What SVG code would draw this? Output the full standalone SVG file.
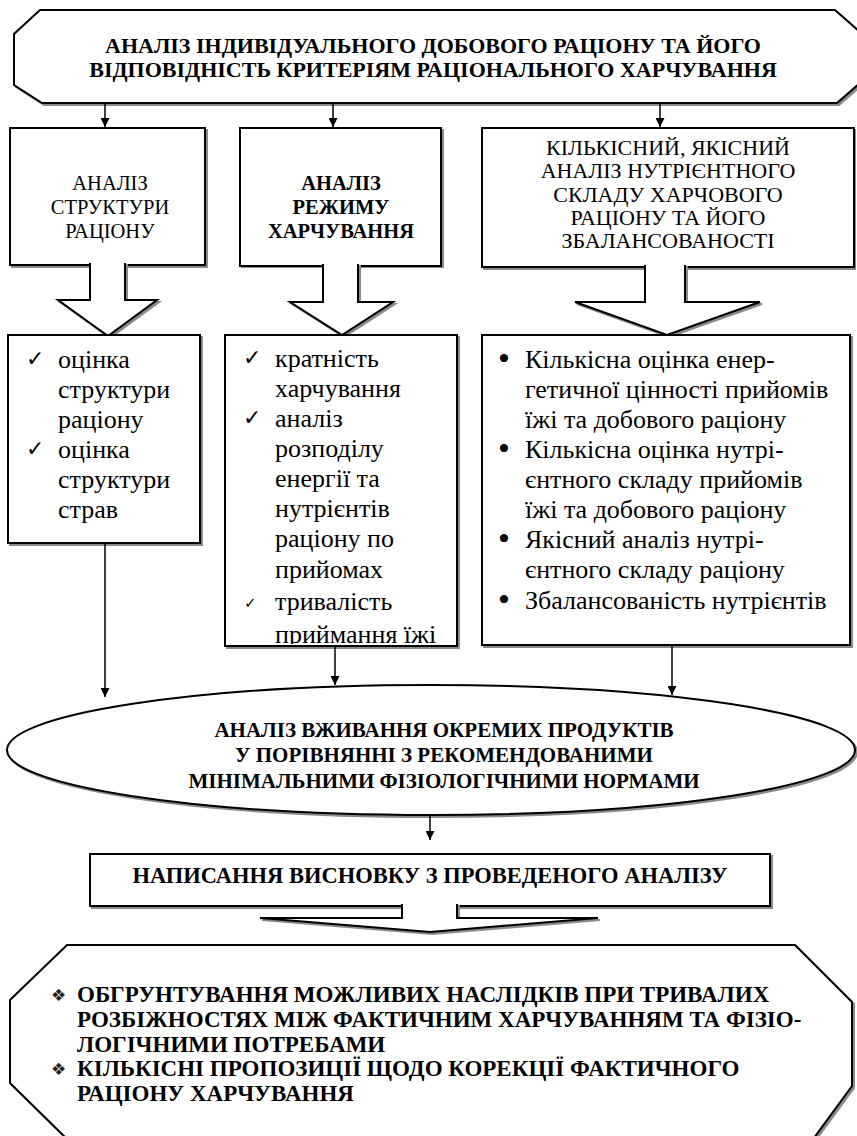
<svg xmlns="http://www.w3.org/2000/svg" width="857" height="1136" viewBox="0 0 857 1136">
  <defs>
    <marker id="ah" viewBox="0 0 10 10" refX="10" refY="5" markerWidth="9" markerHeight="9" markerUnits="userSpaceOnUse" orient="auto">
      <path d="M0,0 L10,5 L0,10 Z" fill="#000"/>
    </marker>
    <clipPath id="clipE">
      <rect x="226" y="336" width="230" height="308"/>
    </clipPath>
  </defs>
  <style>
    .shape { fill: #fff; stroke: #000; stroke-width: 2; stroke-linejoin: miter; }
    .shadow { fill: #8a8a8a; stroke: #8a8a8a; stroke-width: 2; }
    .conn { fill: none; stroke: #000; stroke-width: 1.5; marker-end: url(#ah); }
    text { font-family: "Liberation Serif", "Times New Roman", "DejaVu Serif", serif; fill: #000; }
    .hb { font-size: 22px; font-weight: bold; text-anchor: middle; }
    .hr { font-size: 20.5px; text-anchor: middle; }
    .hbs { font-size: 20.5px; font-weight: bold; text-anchor: middle; }
    .hc { font-size: 22px; text-anchor: middle; }
    .hg { font-size: 22.5px; font-weight: bold; text-anchor: middle; }
    .body { font-size: 26px; }
    .mark { font-family: "DejaVu Sans", sans-serif; font-size: 22px; font-weight: bold; }
    .mark-s { font-family: "DejaVu Sans", sans-serif; font-size: 15px; }
    .bullet { font-size: 34px; }
    .diamond { font-family: "DejaVu Sans", sans-serif; font-size: 17px; fill: #222; }
    .bl { font-size: 23px; font-weight: bold; }
    .el { font-size: 21px; font-weight: bold; text-anchor: middle; }
  </style>

  <!-- title: hexagonal banner -->
  <g id="title">
    <polygon class="shadow" transform="translate(2,2)" points="40,10 835,10 860,32 860,83 837,103 42,103 14,85 14,34"/>
    <polygon class="shape" points="40,10 835,10 860,32 860,83 837,103 42,103 14,85 14,34"/>
    <text class="hb" x="433" y="53">АНАЛІЗ ІНДИВІДУАЛЬНОГО ДОБОВОГО РАЦІОНУ ТА ЙОГО</text>
    <text class="hb" x="433" y="77">ВІДПОВІДНІСТЬ КРИТЕРІЯМ РАЦІОНАЛЬНОГО ХАРЧУВАННЯ</text>
  </g>

  <!-- upper row of headings, each with a hollow block arrow below -->
  <g id="structure">
    <rect class="shadow" x="12" y="130" width="195" height="137"/>
    <rect class="shape" x="10" y="128" width="195" height="137"/>
    <path class="shadow" transform="translate(2,2)" d="M90,263 L90,300 L58,300 L108,336 L157,300 L125,300 L125,263 Z"/>
    <path class="shape" d="M90,263 L90,300 L58,300 L108,336 L157,300 L125,300 L125,263"/>
    <text class="hr" x="110" y="190">АНАЛІЗ</text>
    <text class="hr" x="110" y="214">СТРУКТУРИ</text>
    <text class="hr" x="110" y="238">РАЦІОНУ</text>
  </g>

  <g id="regime">
    <rect class="shadow" x="242" y="130" width="201" height="137"/>
    <rect class="shape" x="240" y="128" width="201" height="138"/>
    <path class="shadow" transform="translate(2,2)" d="M323,264 L323,302 L290,302 L342,335 L393,302 L358,302 L358,264 Z"/>
    <path class="shape" d="M323,264 L323,302 L290,302 L342,335 L393,302 L358,302 L358,264"/>
    <text class="hbs" x="341" y="190">АНАЛІЗ</text>
    <text class="hbs" x="341" y="214">РЕЖИМУ</text>
    <text class="hbs" x="341" y="238">ХАРЧУВАННЯ</text>
  </g>

  <g id="composition">
    <rect class="shadow" x="484" y="130" width="371" height="139"/>
    <rect class="shape" x="482" y="128" width="372" height="139"/>
    <path class="shadow" transform="translate(2,2)" d="M645,265 L645,302 L575,302 L667,335 L760,302 L685,302 L685,265 Z"/>
    <path class="shape" d="M645,265 L645,302 L575,302 L667,335 L760,302 L685,302 L685,265"/>
    <text class="hc" x="668" y="155">КІЛЬКІСНИЙ, ЯКІСНИЙ</text>
    <text class="hc" x="668" y="178">АНАЛІЗ НУТРІЄНТНОГО</text>
    <text class="hc" x="668" y="202">СКЛАДУ ХАРЧОВОГО</text>
    <text class="hc" x="668" y="225">РАЦІОНУ ТА ЙОГО</text>
    <text class="hc" x="668" y="248">ЗБАЛАНСОВАНОСТІ</text>
  </g>

  <!-- lower row of detail lists -->
  <g id="structure-items">
    <rect class="shadow" x="10" y="337" width="192" height="208"/>
    <rect class="shape" x="8" y="335" width="192" height="208"/>
    <text class="mark" x="26" y="366">✓</text>
    <text class="body" x="58" y="368">оцінка</text>
    <text class="body" x="58" y="398">структури</text>
    <text class="body" x="58" y="428">раціону</text>
    <text class="mark" x="26" y="456">✓</text>
    <text class="body" x="58" y="458">оцінка</text>
    <text class="body" x="58" y="488">структури</text>
    <text class="body" x="58" y="518">страв</text>
  </g>

  <g id="regime-items">
    <rect class="shadow" x="227" y="337" width="232" height="311"/>
    <rect class="shape" x="225" y="335" width="232" height="311"/>
    <g clip-path="url(#clipE)">
      <text class="mark" x="243" y="365">✓</text>
      <text class="body" x="275" y="367">кратність</text>
      <text class="body" x="275" y="397">харчування</text>
      <text class="mark" x="243" y="425">✓</text>
      <text class="body" x="275" y="427">аналіз</text>
      <text class="body" x="275" y="457">розподілу</text>
      <text class="body" x="275" y="487">енергії та</text>
      <text class="body" x="275" y="517">нутрієнтів</text>
      <text class="body" x="275" y="547">раціону по</text>
      <text class="body" x="275" y="578">прийомах</text>
      <text class="mark-s" x="244" y="608">✓</text>
      <text class="body" x="275" y="610">тривалість</text>
      <text class="body" x="275" y="643">приймання їжі</text>
    </g>
  </g>

  <g id="composition-items">
    <rect class="shadow" x="484" y="337" width="368" height="310"/>
    <rect class="shape" x="482" y="335" width="368" height="310"/>
    <text class="bullet" x="498" y="370">•</text>
    <text class="body" x="525" y="368">Кількісна оцінка енер-</text>
    <text class="body" x="525" y="398">гетичної цінності прийомів</text>
    <text class="body" x="525" y="428">їжі та добового раціону</text>
    <text class="bullet" x="498" y="460">•</text>
    <text class="body" x="525" y="458">Кількісна оцінка нутрі-</text>
    <text class="body" x="525" y="488">єнтного складу прийомів</text>
    <text class="body" x="525" y="518">їжі та добового раціону</text>
    <text class="bullet" x="498" y="550">•</text>
    <text class="body" x="525" y="548">Якісний аналіз нутрі-</text>
    <text class="body" x="525" y="578">єнтного складу раціону</text>
    <text class="bullet" x="498" y="611">•</text>
    <text class="body" x="525" y="609">Збалансованість нутрієнтів</text>
  </g>

  <!-- product intake ellipse -->
  <g id="products">
    <ellipse class="shadow" cx="433" cy="752" rx="424" ry="65"/>
    <ellipse class="shape" cx="431" cy="750" rx="424" ry="65"/>
    <text class="el" x="444" y="737">АНАЛІЗ ВЖИВАННЯ ОКРЕМИХ ПРОДУКТІВ</text>
    <text class="el" x="444" y="762">У ПОРІВНЯННІ З РЕКОМЕНДОВАНИМИ</text>
    <text class="el" x="444" y="788">МІНІМАЛЬНИМИ ФІЗІОЛОГІЧНИМИ НОРМАМИ</text>
  </g>

  <!-- conclusion box with flat block arrow -->
  <g id="conclusion">
    <rect class="shadow" x="92" y="856" width="680" height="52"/>
    <rect class="shape" x="90" y="854" width="680" height="52"/>
    <path class="shadow" transform="translate(2,2)" d="M402,904 L402,918 L260,918 L430,932 L598,918 L457,918 L457,904 Z"/>
    <path class="shape" d="M402,904 L402,918 L260,918 L430,932 L598,918 L457,918 L457,904"/>
    <text class="hg" x="430" y="883">НАПИСАННЯ ВИСНОВКУ З ПРОВЕДЕНОГО АНАЛІЗУ</text>
  </g>

  <!-- final octagon with recommendations -->
  <g id="recommendations">
    <polygon class="shadow" transform="translate(2,2)" points="67,945 795,945 852,1002 852,1086 811,1142 70,1142 10,1083 10,1000"/>
    <polygon class="shape" points="67,945 795,945 852,1002 852,1086 811,1142 70,1142 10,1083 10,1000"/>
    <text class="diamond" x="51" y="1001">❖</text>
    <text class="bl" x="77" y="1002">ОБГРУНТУВАННЯ МОЖЛИВИХ НАСЛІДКІВ ПРИ ТРИВАЛИХ</text>
    <text class="bl" x="77" y="1027">РОЗБІЖНОСТЯХ МІЖ ФАКТИЧНИМ ХАРЧУВАННЯМ ТА ФІЗІО-</text>
    <text class="bl" x="77" y="1052">ЛОГІЧНИМИ ПОТРЕБАМИ</text>
    <text class="diamond" x="51" y="1075">❖</text>
    <text class="bl" x="77" y="1076">КІЛЬКІСНІ ПРОПОЗИЦІЇ ЩОДО КОРЕКЦІЇ ФАКТИЧНОГО</text>
    <text class="bl" x="77" y="1101">РАЦІОНУ ХАРЧУВАННЯ</text>
  </g>

  <!-- connectors -->
  <g id="connectors">
    <line class="conn" x1="105" y1="104" x2="105" y2="127"/>
    <line class="conn" x1="333" y1="104" x2="333" y2="127"/>
    <line class="conn" x1="660" y1="104" x2="660" y2="127"/>
    <line class="conn" x1="105" y1="544" x2="105" y2="697"/>
    <line class="conn" x1="335" y1="647" x2="335" y2="685"/>
    <line class="conn" x1="672" y1="646" x2="672" y2="695"/>
    <line class="conn" x1="430" y1="815" x2="430" y2="840"/>
  </g>
</svg>
